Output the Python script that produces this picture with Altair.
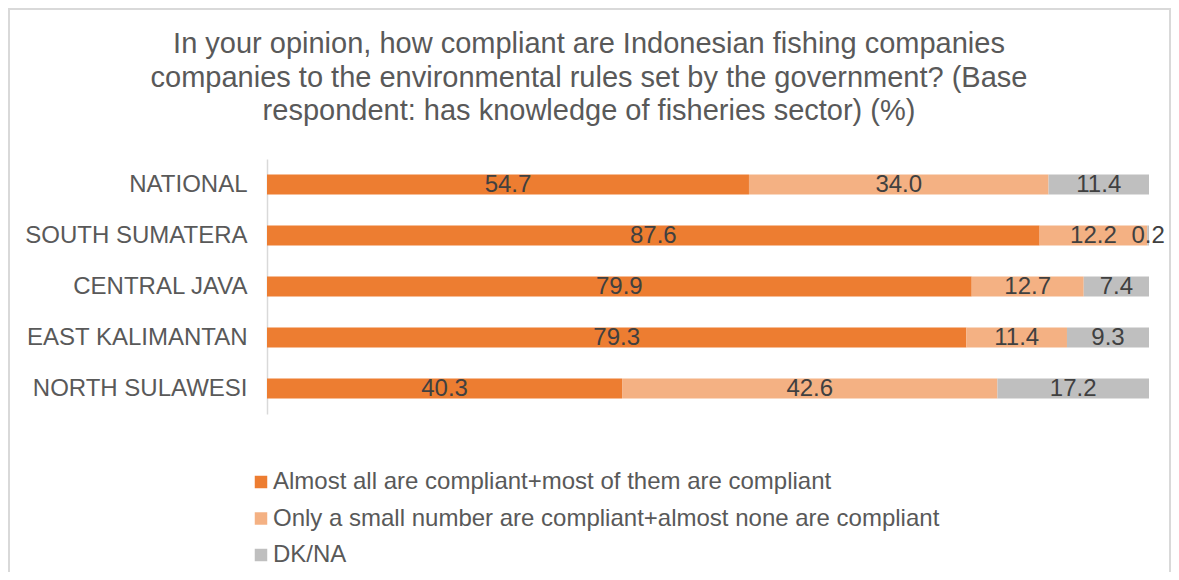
import altair as alt
import pandas as pd

regions = ["NATIONAL", "SOUTH SUMATERA", "CENTRAL JAVA", "EAST KALIMANTAN", "NORTH SULAWESI"]
series = [
    "Almost all are compliant+most of them are compliant",
    "Only a small number are compliant+almost none are compliant",
    "DK/NA",
]
compliant = [54.7, 87.6, 79.9, 79.3, 40.3]
not_compliant = [34.0, 12.2, 12.7, 11.4, 42.6]
dk_na = [11.4, 0.2, 7.4, 9.3, 17.2]
colors = ["#ED7D31", "#F4B183", "#BFBFBF"]
title_lines = [
    "In your opinion, how compliant are Indonesian fishing companies",
    "companies to the environmental rules set by the government? (Base",
    "respondent: has knowledge of fisheries sector) (%)",
]

FONT = "Liberation Sans"

rows = []
for i, r in enumerate(regions):
    for j, (s, vals) in enumerate(zip(series, [compliant, not_compliant, dk_na])):
        rows.append({"region": r, "series": s, "order": j, "value": vals[i]})
df = pd.DataFrame(rows)

base = alt.Chart(df).transform_stack(
    stack="value",
    groupby=["region"],
    as_=["x0", "x1"],
    offset="normalize",
    sort=[alt.SortField("order", order="ascending")],
).transform_calculate(mid="(datum.x0 + datum.x1) / 2")

xscale = alt.Scale(domain=[0, 1], nice=False, zero=False)
yscale = alt.Scale(paddingInner=0.608, paddingOuter=0.304)

bars = base.mark_bar().encode(
    x=alt.X("x0:Q", scale=xscale, axis=None),
    x2="x1:Q",
    y=alt.Y(
        "region:N",
        sort=regions,
        scale=yscale,
        axis=alt.Axis(
            title=None,
            ticks=False,
            labelPadding=20,
            labelFontSize=24,
            labelColor="#595959",
            labelFont=FONT,
            domainColor="#D9D9D9",
            domainWidth=1.5,
            labelLimit=0,
        ),
    ),
    color=alt.Color(
        "series:N",
        scale=alt.Scale(domain=series, range=colors),
        legend=alt.Legend(
            title=None,
            orient="none",
            legendX=-18,
            legendY=311,
            direction="vertical",
            symbolType="square",
            symbolSize=156,
            symbolStrokeWidth=0,
            labelFontSize=24,
            labelColor="#595959",
            labelFont=FONT,
            rowPadding=12.5,
            labelOffset=0,
            padding=0,
            labelLimit=0,
        ),
    ),
)

labels = base.mark_text(fontSize=24, color="#404040", font=FONT, baseline="middle").encode(
    x=alt.X("mid:Q", scale=xscale, axis=None),
    y=alt.Y("region:N", sort=regions, scale=yscale),
    text=alt.Text("value:Q", format=".1f"),
)

border = alt.Chart(pd.DataFrame({"b": [0]})).mark_rect(
    fill="transparent", stroke="#D9D9D9", strokeWidth=2
).encode(
    x=alt.value(-258),
    x2=alt.value(903),
    y=alt.value(-150),
    y2=alt.value(700),
)

chart = alt.layer(border, bars, labels).properties(
    width=882,
    height=255,
    background="white",
    autosize=alt.AutoSizeParams(type="none"),
    padding={"left": 259, "top": 151, "right": 22, "bottom": 158},
    title=alt.TitleParams(
        text=title_lines,
        fontSize=29,
        lineHeight=33.5,
        color="#595959",
        font=FONT,
        fontWeight="normal",
        anchor="middle",
        frame="group",
        dx=-119,
        dy=151,
        offset=33,
    ),
).configure_view(strokeWidth=0, stroke="transparent")

chart.save("out.html", embed_options={"renderer": "svg", "actions": False})
